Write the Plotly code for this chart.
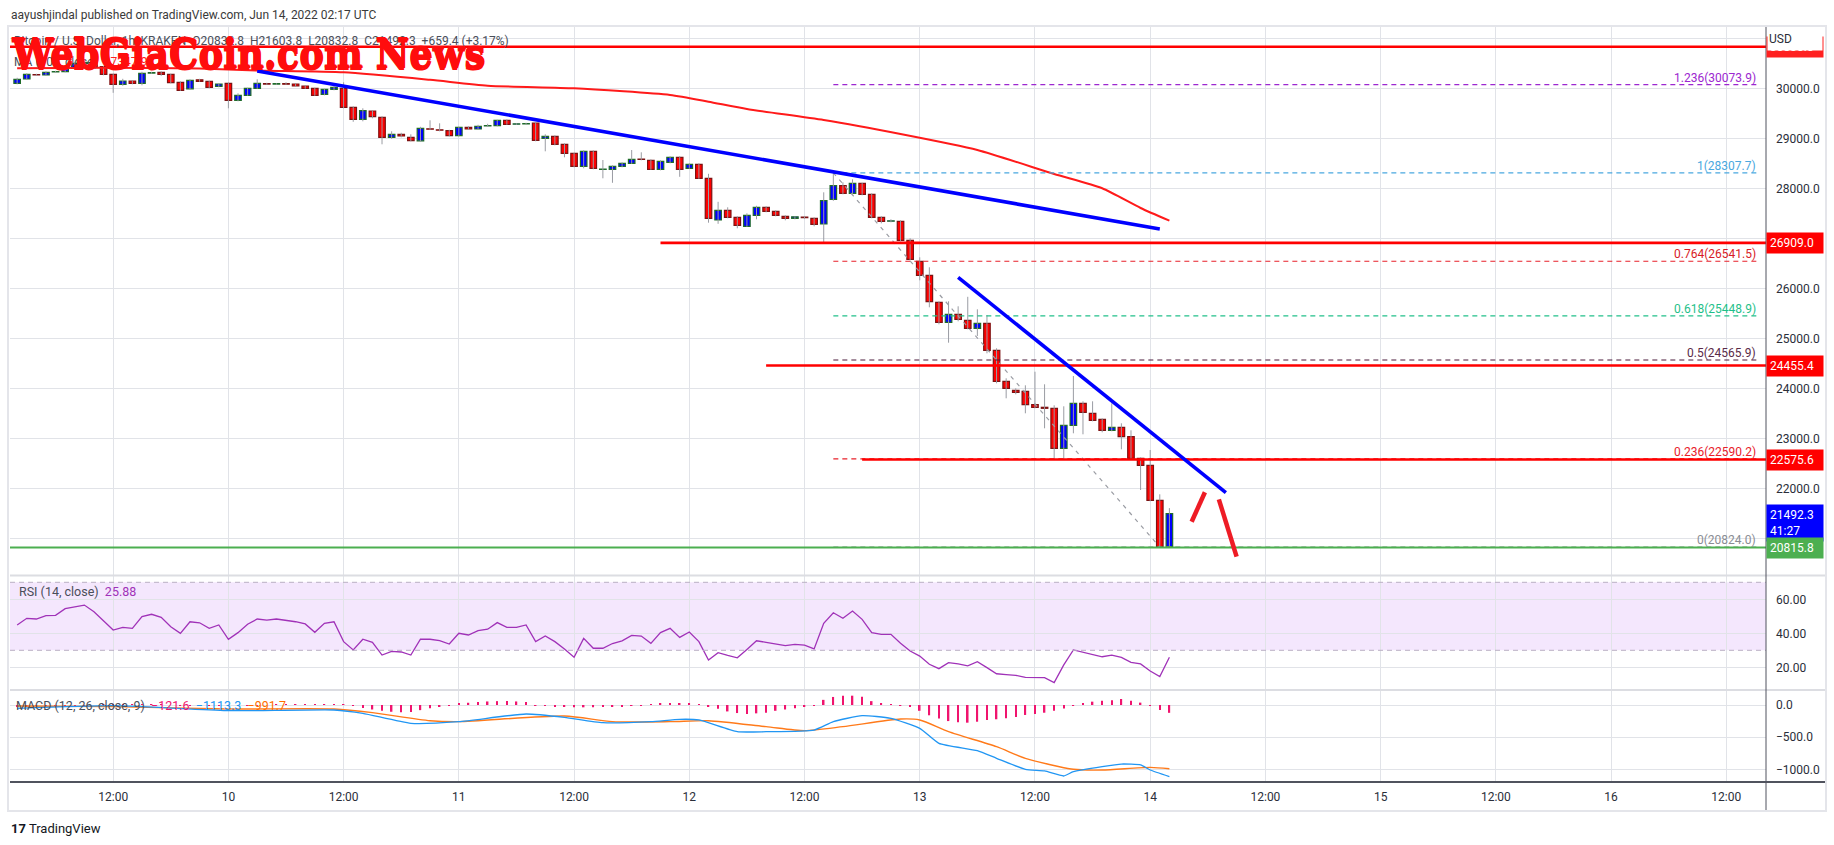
import pandas as pd
import plotly.graph_objects as go

W, H = 1834, 845
FONT = "Roboto"
GRID = "#e1e3e8"
INK = "#2a2e39"

# ---------------- data (BTC/USD, 1h, Kraken) ----------------
FIRST_CANDLE = "2022-06-09 02:00"

OPEN = [30100, 30186, 30275, 30266, 30328, 30332, 30400, 30500, 30515, 30432,
        30280, 30080, 30146, 30100, 30305, 30320, 30280, 30120, 29990, 30170,
        30140, 30040, 30100, 29760, 29860, 30000, 30095, 30085, 30092, 30086,
        30046, 30000, 29880, 29980, 30000, 29620, 29380, 29546, 29420, 29020,
        29080, 29020, 28950, 29190, 29170, 29152, 29052, 29220, 29186, 29248,
        29252, 29360, 29283, 29286, 29306, 29000, 29040, 28880, 28700, 28440,
        28740, 28378, 28380, 28440, 28500, 28584, 28560, 28380, 28520, 28620,
        28400, 28480, 28200, 27366, 27560, 27420, 27240, 27460, 27620, 27540,
        27440, 27400, 27426, 27400, 27286, 27780, 28052, 27900, 28100, 27880,
        27420, 27343, 27340, 26960, 26540, 26260, 25720, 25320, 25480, 25360,
        25200, 25300, 24760, 24140, 23960, 23940, 23672, 23620, 23600, 22800,
        23260, 23700, 23500, 23380, 23160, 23220, 23032, 22600, 22460, 21760,
        20832.8]
HIGH = [30210, 30300, 30290, 30340, 30350, 30410, 30520, 30560, 30540, 30450,
        30290, 30190, 30160, 30330, 30330, 30340, 30290, 30140, 30180, 30190,
        30150, 30100, 30110, 29900, 30010, 30180, 30110, 30100, 30120, 30100,
        30060, 30010, 29990, 30040, 30120, 29640, 29600, 29560, 29440, 29140,
        29110, 29080, 29230, 29360, 29300, 29170, 29230, 29240, 29270, 29290,
        29370, 29380, 29300, 29310, 29320, 29080, 29060, 28900, 28710, 28760,
        28760, 28566, 28460, 28520, 28766, 28720, 28580, 28560, 28640, 28640,
        28500, 28500, 28290, 27730, 27620, 27440, 27500, 27650, 27640, 27560,
        27460, 27440, 27440, 27420, 27920, 28307.7, 28120, 28180, 28110, 27900,
        27440, 27380, 27360, 27000, 26620, 26420, 25740, 25740, 25640, 25830,
        25580, 25466, 24800, 24200, 24000, 24060, 24332, 24080, 23660, 23640,
        24246, 23740, 23740, 23400, 23700, 23300, 23160, 22620, 22766, 21880,
        21603.8]
LOW = [30080, 30170, 30250, 30255, 30310, 30320, 30380, 30470, 30410, 30260,
       29910, 30050, 30080, 30060, 30290, 30250, 30100, 29950, 29980, 30130,
       30000, 30020, 29600, 29740, 29850, 29990, 30070, 30070, 30070, 30030,
       29990, 29850, 29860, 29960, 29600, 29330, 29340, 29400, 28880, 28990,
       29020, 28940, 28930, 29170, 29140, 29040, 29040, 29170, 29170, 29230,
       29240, 29270, 29270, 29270, 28940, 28740, 28860, 28620, 28420, 28400,
       28380, 28200, 28110, 28420, 28490, 28560, 28370, 28360, 28500, 28230,
       28390, 28190, 27312, 27290, 27400, 27200, 27230, 27380, 27520, 27440,
       27360, 27380, 27390, 27240, 26900, 27750, 27880, 27880, 27860, 27400,
       27300, 27320, 26940, 26560, 26160, 25620, 25280, 24912, 25340, 25180,
       25046, 24700, 24100, 23800, 23880, 23500, 23600, 23200, 22580, 22580,
       23100, 23080, 23340, 23120, 23140, 22780, 22580, 21966, 21740, 20824,
       20832.8]
CLOSE = [30180, 30280, 30268, 30320, 30334, 30392, 30500, 30520, 30430, 30280,
         30080, 30146, 30100, 30300, 30312, 30280, 30112, 29960, 30160, 30140,
         30020, 30086, 29760, 29860, 30000, 30100, 30085, 30092, 30082, 30046,
         30000, 29860, 29980, 30020, 29620, 29380, 29552, 29432, 29020, 29080,
         29046, 28952, 29200, 29182, 29162, 29052, 29220, 29186, 29240, 29256,
         29360, 29280, 29289, 29292, 28960, 29040, 28880, 28700, 28440, 28740,
         28400, 28384, 28440, 28500, 28580, 28576, 28380, 28540, 28620, 28380,
         28480, 28200, 27400, 27560, 27420, 27260, 27460, 27620, 27540, 27460,
         27400, 27430, 27414, 27280, 27752, 28052, 27900, 28100, 27880, 27420,
         27340, 27349, 26960, 26580, 26260, 25732, 25320, 25480, 25380, 25200,
         25300, 24760, 24140, 24000, 23920, 23672, 23620, 23600, 22800, 23260,
         23700, 23520, 23360, 23160, 23220, 23032, 22600, 22460, 21760, 20832.8,
         21492.3]

RSI = [44.9, 48.8, 48.4, 50.4, 50.6, 54.5, 55.5, 56.6, 52.7, 47.0,
       41.9, 43.5, 42.9, 49.8, 51.2, 49.4, 43.9, 40.0, 46.8, 46.2,
       42.9, 44.9, 36.5, 40.4, 45.3, 48.4, 47.8, 48.4, 47.8, 46.8,
       45.5, 40.6, 45.9, 46.8, 35.1, 30.2, 36.5, 34.7, 27.2, 29.4,
       29.0, 27.2, 36.5, 36.5, 35.7, 33.7, 40.0, 39.0, 41.6, 42.4,
       46.3, 43.5, 43.5, 44.9, 35.1, 38.4, 35.1, 30.8, 25.9, 37.0,
       31.2, 31.2, 34.0, 35.6, 38.8, 38.4, 34.1, 40.4, 42.9, 37.6,
       40.8, 35.1, 24.3, 28.6, 27.0, 25.6, 30.5, 35.6, 34.7, 33.7,
       32.7, 33.5, 33.1, 30.8, 45.9, 52.1, 48.8, 53.1, 48.2, 40.4,
       39.4, 39.4, 34.1, 29.6, 26.6, 21.8, 19.2, 22.7, 22.0, 20.8,
       23.3, 19.8, 16.2, 15.7, 15.3, 14.1, 13.9, 13.9, 11.0, 21.4,
       30.2, 28.8, 27.6, 26.2, 27.1, 25.8, 22.9, 22.0, 17.8, 14.5,
       25.88]

MACD_HIST = [-20, -18, -15, -12, -10, -8, -5, -3, 0, 2, 4, 6, 5, 4, 3, 2, 0, -2, -4, -6,
             -8, -9, -10, -8, -6, -3, 0, 3, 5, 8, 8, 6, 6, 5, 3,
             -10, -45, -70, -90, -105, -112, -110, -80, -50, -25, -10,
             20, 35, 48, 55, 60, 62, 55, 45,
             -8, -15, -22, -25, -35, -36, -35, -28, -22, -18, -14, -5,
             12, 18, 22, 25, 20, 12,
             -25, -60, -100, -125, -140, -130, -120, -90, -70, -52, -30, -10,
             80, 125, 145, 145, 130, 60, 30, 8,
             -5, -25, -90, -160, -210, -250, -270, -275, -260, -235, -222, -208,
             -185, -155, -140, -120, -90, -55, -5,
             25, 52, 65, 75, 93, 68, 37,
             -5, -78, -121.6]

# candle index -> value, read at the points where the curves bend
MA_IDX = [0, 9, 19, 25, 34, 43, 49, 58, 68, 72, 76, 84, 92, 100, 108, 113, 117, 120]
MA_VAL = [30400, 30410, 30396, 30356, 30320, 30170, 30052, 30000, 29866, 29732,
          29586, 29366, 29086, 28766, 28286, 28000, 27606, 27352]

MACD_IDX = [0, 10, 22, 25, 33, 36, 41, 46, 53, 57, 61, 66, 69, 71, 75, 78, 83, 85,
            88, 91, 94, 96, 100, 102, 105, 107, 109, 110, 113, 115, 117, 118, 120]
MACD_VAL = [-51, -10, -88, -88, -78, -130, -285, -259, -140, -192, -275, -259, -223,
            -233, -415, -415, -389, -259, -166, -207, -363, -596, -710, -829, -1000,
            -1026, -1104, -1037, -959, -918, -933, -1011, -1113.3]
SIGNAL_IDX = [0, 10, 22, 33, 37, 43, 46, 57, 62, 68, 72, 78, 82, 86, 92, 94, 97,
              102, 105, 110, 113, 118, 120]
SIGNAL_VAL = [-16, -26, -62, -62, -119, -244, -259, -171, -259, -259, -244, -337,
              -399, -337, -218, -233, -415, -648, -829, -1000, -1011, -970, -991.7]

# drawings
LEVEL_PRICE = [30830.0, 26909.0, 24455.4, 22575.6]
LEVEL_FROM = [None, "2022-06-11 21:00", "2022-06-12 08:00", "2022-06-12 18:00"]
SUPPORT_PRICE = 20815.8

FIB_RATIO = ["1.236", "1", "0.764", "0.618", "0.5", "0.236", "0"]
FIB_PRICE = [30073.9, 28307.7, 26541.5, 25448.9, 24565.9, 22590.2, 20824.0]
FIB_TIME = ["2022-06-12 15:00", "2022-06-16 15:30"]
FIB_DIAG_TIME = ["2022-06-12 15:00", "2022-06-14 01:00"]
FIB_DIAG_PRICE = [28307.7, 20824.0]

TREND1_TIME = ["2022-06-10 03:00", "2022-06-14 01:00"]
TREND1_PRICE = [30346, 27186]
TREND2_TIME = ["2022-06-13 04:00", "2022-06-14 07:53"]
TREND2_PRICE = [26220, 21912]
ARROW_UP_TIME = ["2022-06-14 04:19", "2022-06-14 05:42"]
ARROW_UP_PRICE = [21332, 21920]
ARROW_DN_TIME = ["2022-06-14 07:09", "2022-06-14 09:00"]
ARROW_DN_PRICE = [21780, 20632]

# ---------------- layout geometry (pixels of the 1834x845 page) ----------------
PLOT_L, PLOT_R = 10, 1766
MAIN_T, MAIN_B = 27, 575.5
RSI_T, RSI_B = 576, 690
MACD_T, MACD_B = 690, 782
PX_PER_HOUR = 9.602
DAY10_PX = 228.4


def px(x):
    return x / W


def py(y):
    return 1 - y / H


day10 = pd.Timestamp("2022-06-10")
x_left = day10 + pd.Timedelta(hours=(PLOT_L - DAY10_PX) / PX_PER_HOUR)
x_right = day10 + pd.Timedelta(hours=(PLOT_R - DAY10_PX) / PX_PER_HOUR)

times = pd.date_range(FIRST_CANDLE, periods=len(CLOSE), freq="h")

fig = go.Figure()

# wicks
wx, wy = [], []
for t, h, l in zip(times, HIGH, LOW):
    wx += [t, t, None]
    wy += [l, h, None]
fig.add_trace(go.Scatter(x=wx, y=wy, mode="lines", line=dict(color="#9a9ca3", width=1),
                         hoverinfo="skip", xaxis="x", yaxis="y"))

# bodies
up = [c >= o for o, c in zip(OPEN, CLOSE)]
fig.add_trace(go.Bar(
    x=times, base=[min(o, c) for o, c in zip(OPEN, CLOSE)],
    y=[max(abs(c - o), 1) for o, c in zip(OPEN, CLOSE)],
    width=0.68 * 3600000,
    marker=dict(color=["#0000ff" if u else "#ff0000" for u in up],
                line=dict(color=["#1f6b2a" if u else "#7d1212" for u in up], width=1.2)),
    xaxis="x", yaxis="y", hoverinfo="skip"))

# moving average
fig.add_trace(go.Scatter(x=[times[i] for i in MA_IDX], y=MA_VAL, mode="lines",
                         line=dict(color="#ff1a1a", width=2, shape="spline", smoothing=0.6),
                         xaxis="x", yaxis="y", hoverinfo="skip"))

# fib retracement
FIB_COLOR = ["#9c27d0", "#4aa8e0", "#e8202a", "#22c08a", "#4a1a3a", "#e8202a", "#8a8d94"]
for p, c in zip(FIB_PRICE, FIB_COLOR):
    fig.add_trace(go.Scatter(x=FIB_TIME, y=[p, p], mode="lines",
                             line=dict(color=c, width=1.2, dash="5px,4px"),
                             xaxis="x", yaxis="y", hoverinfo="skip"))
fig.add_trace(go.Scatter(x=FIB_DIAG_TIME, y=FIB_DIAG_PRICE, mode="lines",
                         line=dict(color="#9a9ca3", width=1.2, dash="4px,5px"),
                         xaxis="x", yaxis="y", hoverinfo="skip"))

# horizontal levels
for p, start in zip(LEVEL_PRICE, LEVEL_FROM):
    fig.add_trace(go.Scatter(x=[start or x_left, x_right], y=[p, p], mode="lines",
                             line=dict(color="#ff0000", width=2.6),
                             xaxis="x", yaxis="y", hoverinfo="skip"))
fig.add_trace(go.Scatter(x=[x_left, x_right], y=[SUPPORT_PRICE] * 2, mode="lines",
                         line=dict(color="#4caf50", width=2),
                         xaxis="x", yaxis="y", hoverinfo="skip"))

# trend lines and hand drawn arrows
for tx, ty in [(TREND1_TIME, TREND1_PRICE), (TREND2_TIME, TREND2_PRICE)]:
    fig.add_trace(go.Scatter(x=tx, y=ty, mode="lines", line=dict(color="#0000ff", width=3.6),
                             xaxis="x", yaxis="y", hoverinfo="skip"))
for tx, ty in [(ARROW_UP_TIME, ARROW_UP_PRICE), (ARROW_DN_TIME, ARROW_DN_PRICE)]:
    fig.add_trace(go.Scatter(x=tx, y=ty, mode="lines", line=dict(color="#ee1c25", width=4.5),
                             xaxis="x", yaxis="y", hoverinfo="skip"))

# RSI
fig.add_trace(go.Scatter(x=times, y=RSI, mode="lines", line=dict(color="#a032b8", width=1.3),
                         xaxis="x2", yaxis="y2", hoverinfo="skip"))

# MACD
fig.add_trace(go.Bar(x=times, y=MACD_HIST, width=0.16 * 3600000,
                     marker=dict(color="#f0146e", line=dict(width=0)),
                     xaxis="x3", yaxis="y3", hoverinfo="skip"))
fig.add_trace(go.Scatter(x=[times[i] for i in SIGNAL_IDX], y=SIGNAL_VAL, mode="lines",
                         line=dict(color="#ff7a1a", width=1.4, shape="spline", smoothing=0.7),
                         xaxis="x3", yaxis="y3", hoverinfo="skip"))
fig.add_trace(go.Scatter(x=[times[i] for i in MACD_IDX], y=MACD_VAL, mode="lines",
                         line=dict(color="#2196f3", width=1.3, shape="spline", smoothing=0.5),
                         xaxis="x3", yaxis="y3", hoverinfo="skip"))

# ---------------- axes ----------------
tick_times = pd.date_range("2022-06-09 12:00", "2022-06-16 12:00", freq="12h")
tick_text = ["12:00" if t.hour == 12 else str(t.day) for t in tick_times]
xcommon = dict(type="date", range=[x_left, x_right], domain=[px(PLOT_L), px(PLOT_R)],
               tickvals=tick_times, ticktext=tick_text, showgrid=True, gridcolor=GRID,
               gridwidth=1, zeroline=False, showline=False, ticks="", fixedrange=True)

main_range = [30000 - (MAIN_B - 88.3) * 20, 30000 + (88.3 - MAIN_T) * 20]
rsi_range = [60 - (RSI_B - 599.3) / 1.7, 60 + (599.3 - RSI_T) / 1.7]
macd_range = [-(MACD_B - 705) / 0.0643, (705 - MACD_T) / 0.0643]

ycommon = dict(side="right", showgrid=True, gridcolor=GRID, gridwidth=1, zeroline=False,
               showline=False, ticks="", ticklabelstandoff=9,
               tickfont=dict(family=FONT, size=12, color=INK), fixedrange=True)

fig.update_layout(
    xaxis=dict(xcommon, anchor="y", showticklabels=False),
    xaxis2=dict(xcommon, anchor="y2", showticklabels=False, matches="x"),
    xaxis3=dict(xcommon, anchor="y3", showticklabels=True, matches="x",
                tickfont=dict(family=FONT, size=12, color=INK), ticklabelstandoff=6),
    yaxis=dict(ycommon, anchor="x", domain=[py(MAIN_B), py(MAIN_T)], range=main_range,
               tickvals=list(range(21000, 31001, 1000)), tickformat=".1f"),
    yaxis2=dict(ycommon, anchor="x2", domain=[py(RSI_B), py(RSI_T)], range=rsi_range,
                tickvals=[20, 40, 60], tickformat=".2f"),
    yaxis3=dict(ycommon, anchor="x3", domain=[py(MACD_B), py(MACD_T)], range=macd_range,
                tickvals=[0, -500, -1000], tickformat=".1f"),
    width=W, height=H, margin=dict(l=0, r=0, t=0, b=0),
    paper_bgcolor="white", plot_bgcolor="white", showlegend=False, barmode="overlay",
    font=dict(family=FONT, color=INK),
)

# ---------------- shapes ----------------
shapes = [
    # RSI band
    dict(type="rect", xref="x2 domain", x0=0, x1=1, yref="y2", y0=30, y1=70,
         fillcolor="#f4e7fd", line=dict(width=0), layer="below"),
    dict(type="line", xref="x2 domain", x0=0, x1=1, yref="y2", y0=70, y1=70,
         line=dict(color="#b9b0c4", width=1, dash="5px,4px")),
    dict(type="line", xref="x2 domain", x0=0, x1=1, yref="y2", y0=30, y1=30,
         line=dict(color="#b9b0c4", width=1, dash="5px,4px")),
    # pane separators
    dict(type="line", xref="paper", yref="paper", x0=px(PLOT_L), x1=px(1826),
         y0=py(MAIN_B), y1=py(MAIN_B), line=dict(color="#dcdde2", width=2)),
    dict(type="line", xref="paper", yref="paper", x0=px(PLOT_L), x1=px(1826),
         y0=py(RSI_B), y1=py(RSI_B), line=dict(color="#dcdde2", width=2)),
    # time axis line and price axis line
    dict(type="line", xref="paper", yref="paper", x0=px(PLOT_L), x1=px(1826),
         y0=py(MACD_B), y1=py(MACD_B), line=dict(color="#50535e", width=2)),
    dict(type="line", xref="paper", yref="paper", x0=px(PLOT_R), x1=px(PLOT_R),
         y0=py(MAIN_T), y1=py(810), line=dict(color="#50535e", width=1)),
    # outer frame
    dict(type="rect", xref="paper", yref="paper", x0=px(8), x1=px(1826),
         y0=py(811), y1=py(26), line=dict(color="#e4e5ea", width=2)),
]
fig.update_layout(shapes=shapes)

# ---------------- annotations ----------------
ann = []
FIB_TXT_COLOR = ["#9c27d0", "#4aa8e0", "#d81b26", "#1fbf8a", "#5a2a48", "#e8202a", "#8a8d94"]
for r, p, c in zip(FIB_RATIO, FIB_PRICE, FIB_TXT_COLOR):
    ann.append(dict(x=px(1758), xref="paper", xanchor="right", y=p, yref="y", yanchor="bottom",
                    yshift=-2, text=f"{r}({p:.1f})", showarrow=False,
                    font=dict(family=FONT, size=12, color=c)))


def tag(price, text, color, yshift=0, yanchor="middle"):
    return dict(x=px(PLOT_R), xref="paper", xanchor="left", y=price, yref="y",
                yanchor=yanchor, yshift=yshift, text=text, showarrow=False, align="left",
                bgcolor=color, borderpad=3, width=50,
                font=dict(family=FONT, size=12, color="white"))


ann.append(tag(LEVEL_PRICE[0], "30830.0", "#ff2020"))
ann.append(dict(x=px(PLOT_R + 1), xref="paper", xanchor="left", y=py(27), yref="paper",
                yanchor="top", text="USD", showarrow=False, align="left", bgcolor="white",
                width=52, height=20, borderpad=1, font=dict(family=FONT, size=12, color=INK)))
ann.append(tag(LEVEL_PRICE[1], "26909.0", "#ff0000"))
ann.append(tag(LEVEL_PRICE[2], "24455.4", "#ff0000"))
ann.append(tag(LEVEL_PRICE[3], "22575.6", "#ff0000"))
ann.append(tag(CLOSE[-1], "21492.3<br>41:27", "#0000ff", yanchor="top", yshift=10))
ann.append(tag(SUPPORT_PRICE, "20815.8", "#4caf50"))

WM = "#ff0d0d"
ann += [
    dict(x=px(9), y=py(15), xref="paper", yref="paper", xanchor="left", yanchor="middle",
         text="aayushjindal published on TradingView.com, Jun 14, 2022 02:17 UTC",
         showarrow=False, font=dict(family=FONT, size=12, color="#3a3a3a")),
    dict(x=px(12), y=py(41), xref="paper", yref="paper", xanchor="left", yanchor="middle",
         text="Bitcoin / U.S. Dollar, 1h, KRAKEN  O20832.8  H21603.8  L20832.8  C21492.3  +659.4 (+3.17%)",
         showarrow=False, font=dict(family=FONT, size=12, color="#4a4e59")),
    dict(x=px(12), y=py(62), xref="paper", yref="paper", xanchor="left", yanchor="middle",
         text="MA (100, close)  <span style='color:#ff2020'>27347.9</span>",
         showarrow=False, font=dict(family=FONT, size=12, color="#4a4e59")),
    dict(x=px(17), y=py(591), xref="paper", yref="paper", xanchor="left", yanchor="middle",
         text="RSI (14, close)  <span style='color:#a032b8'>25.88</span>",
         showarrow=False, font=dict(family=FONT, size=12.5, color="#4a4e59")),
    dict(x=px(14), y=py(705), xref="paper", yref="paper", xanchor="left", yanchor="middle",
         text="MACD (12, 26, close, 9)  <span style='color:#f0146e'>−121.6</span>  "
              "<span style='color:#2196f3'>−1113.3</span>  <span style='color:#ff6d00'>−991.7</span>",
         showarrow=False, font=dict(family=FONT, size=12.5, color="#4a4e59")),
    dict(x=px(9), y=py(828), xref="paper", yref="paper", xanchor="left", yanchor="middle",
         text="<b>17</b> TradingView", showarrow=False,
         font=dict(family=FONT, size=13, color="#131722")),
    # watermark
    dict(x=px(9), y=py(54), xref="paper", yref="paper", xanchor="left", yanchor="middle",
         text="<b>WebGiaCoin.com News</b>", showarrow=False,
         font=dict(family="DejaVu Serif Condensed, DejaVu Serif", size=41, color=WM,
                   shadow=f"0 2px 0 {WM}, 0 -1px 0 {WM}, 1px 0 0 {WM}")),
]
fig.update_layout(annotations=ann)

fig.write_html("out.html", config={"displayModeBar": False},
               post_script="document.body.style.margin='0';")
